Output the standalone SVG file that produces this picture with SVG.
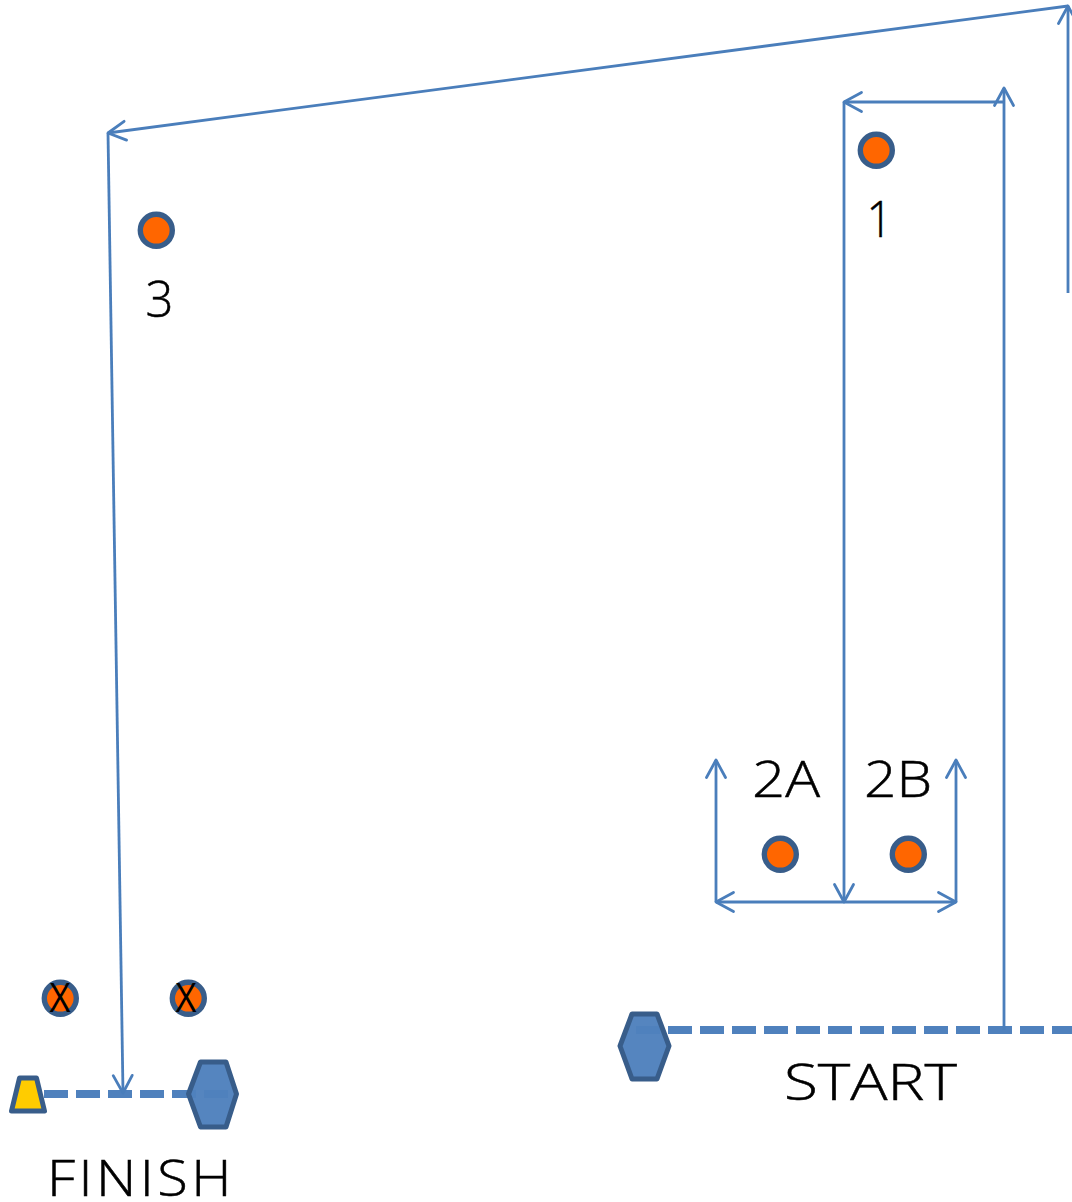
<svg xmlns="http://www.w3.org/2000/svg" width="1072" height="1202" viewBox="0 0 1072 1202">
<style>
.c{fill:none;stroke:#4a7ebb;stroke-width:2.8}
.a{marker-end:url(#arr)}
.d{fill:none;stroke:#4f81bd;stroke-width:8;stroke-dasharray:24 8}
.p{fill:#ff6600;stroke:#385d8a;stroke-width:5.4}
.h{fill:#4f81bd;fill-opacity:.97;stroke:#385d8a;stroke-width:5;stroke-linejoin:round}
.t{font-family:"Open Sans","Noto Sans",sans-serif;font-size:49px;font-weight:300;fill:#000;stroke:#000;stroke-width:.5}
.x{font-family:"Open Sans","Noto Sans",sans-serif;font-size:40px;fill:#000}
</style>
<defs>
<marker id="arr" markerUnits="userSpaceOnUse" markerWidth="30" markerHeight="30" refX="20.500" refY="12" orient="auto" viewBox="0 0 30 30">
<path d="M3 2.500L20.500 12L3 21.500" fill="none" stroke="#4a7ebb" stroke-width="2.800" stroke-linejoin="round" stroke-linecap="round"/>
</marker>
</defs>
<g id="connectors">
<path class="d" d="M636 1030H1072"/>
<path class="d" d="M44 1094H228"/>
<path class="c a" d="M1068 293V6"/>
<path class="c a" d="M1068 6L108 133"/>
<path class="c a" d="M108 133L123 1093"/>
<path class="c a" d="M1004 1030V88"/>
<path class="c a" d="M1004 102H844"/>
<path class="c a" d="M844 102V902"/>
<path class="c a" d="M844 902H716"/>
<path class="c a" d="M844 902H956"/>
<path class="c a" d="M716 902V760"/>
<path class="c a" d="M956 902V760"/>
</g>
<g id="start-cone"><polygon class="h" points="620,1046 632,1014 657,1014 669,1046 657,1079 632,1079"/></g>
<g id="finish-cone"><polygon class="h" points="188.500,1094 200.500,1062 226,1062 236.500,1094 226,1127 200.500,1127"/></g>
<g id="finish-marker"><polygon points="11.500,1111 19.500,1078 36.500,1078 44.500,1111" fill="#ffcc00" stroke="#385d8a" stroke-width="5" stroke-linejoin="round"/></g>
<g id="node-1"><circle class="p" cx="876.300" cy="150.300" r="16"/><text class="t" x="866.500" y="237" textLength="26" lengthAdjust="spacingAndGlyphs">1</text></g>
<g id="node-3"><circle class="p" cx="156.300" cy="230.300" r="16"/><text class="t" x="145.500" y="317" textLength="28" lengthAdjust="spacingAndGlyphs">3</text></g>
<g id="node-2a"><circle class="p" cx="780.300" cy="854.300" r="16"/><text class="t" x="752" y="797" textLength="68" lengthAdjust="spacingAndGlyphs">2A</text></g>
<g id="node-2b"><circle class="p" cx="908.300" cy="854.300" r="16"/><text class="t" x="864" y="797" textLength="68" lengthAdjust="spacingAndGlyphs">2B</text></g>
<g id="node-x1"><circle class="p" cx="60.300" cy="998.300" r="16"/><text class="x" x="49.500" y="1012" textLength="21" lengthAdjust="spacingAndGlyphs">X</text></g>
<g id="node-x2"><circle class="p" cx="188.300" cy="998.300" r="16"/><text class="x" x="175.500" y="1012" textLength="21" lengthAdjust="spacingAndGlyphs">X</text></g>
<g id="label-start"><text class="t" x="784" y="1100" textLength="173" lengthAdjust="spacingAndGlyphs">START</text></g>
<g id="label-finish"><text class="t" x="47" y="1196" textLength="188" lengthAdjust="spacingAndGlyphs" letter-spacing="3">FINISH</text></g>
</svg>
